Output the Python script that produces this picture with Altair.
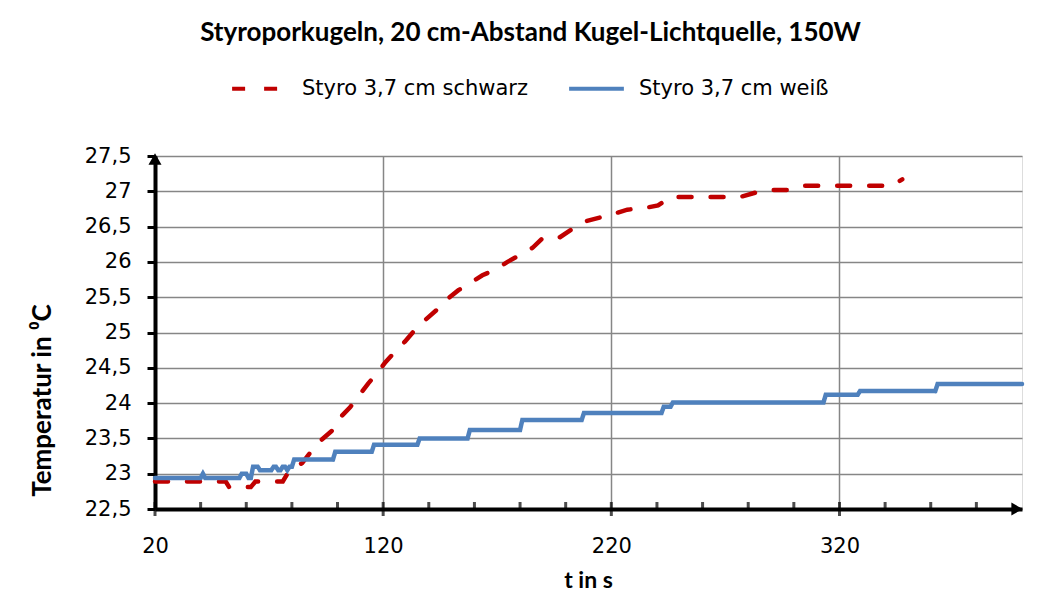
import altair as alt
import pandas as pd

TITLE = "Styroporkugeln, 20 cm-Abstand Kugel-Lichtquelle, 150W"
X_TITLE = "t in s"
Y_TITLE = "Temperatur in \u2070C"

series_names = ["Styro 3,7 cm schwarz", "Styro 3,7 cm weiß"]
series_colors = ["#C00000", "#4F81BD"]
series_dash = [[13, 19], [1, 0]]

# Styro 3,7 cm schwarz (red, dashed)
red_t = [20, 51, 52.5, 62, 64, 76, 79, 84.5, 89, 93, 98, 101, 105.5, 109, 113.5,
         117.5, 121, 125, 129.5, 134, 138.5, 143.5, 148, 153, 158, 163.5, 169,
         174.5, 180, 185.5, 190, 197.5, 203, 208, 214, 221, 227, 234, 240.5, 246,
         276.5, 283, 290, 297, 304, 343, 347.5]
red_v = [22.89, 22.89, 22.81, 22.81, 22.89, 22.89, 23.05, 23.15, 23.34, 23.48,
         23.62, 23.79, 23.94, 24.09, 24.28, 24.43, 24.58, 24.72, 24.87, 25.04,
         25.18, 25.32, 25.47, 25.60, 25.70, 25.81, 25.89, 26.00, 26.10, 26.20,
         26.34, 26.35, 26.47, 26.57, 26.62, 26.68, 26.74, 26.76, 26.80, 26.92,
         26.92, 26.98, 27.02, 27.02, 27.08, 27.08, 27.17]

# Styro 3,7 cm weiß (blue, solid)
blue_t = [20, 40, 41, 42, 57, 58, 60, 61, 62, 63, 65, 66, 71, 72, 73, 74, 75, 76,
          77, 78, 79, 80, 81, 98, 99, 115, 116, 135, 136, 157, 158, 180, 181, 207,
          208, 242, 243, 246, 247, 313, 314, 328, 329, 362, 363, 400]
blue_v = [22.94, 22.94, 23.0, 22.94, 22.94, 23.0, 23.0, 22.94, 22.94, 23.1, 23.1,
          23.05, 23.05, 23.1, 23.1, 23.05, 23.05, 23.1, 23.1, 23.05, 23.1, 23.1,
          23.2, 23.2, 23.31, 23.31, 23.41, 23.41, 23.5, 23.5, 23.62, 23.62, 23.76,
          23.76, 23.86, 23.86, 23.95, 23.95, 24.01, 24.01, 24.12, 24.12, 24.17,
          24.17, 24.27, 24.27]

x_domain = [20, 400]
y_domain = [22.5, 27.5]
x_major = [20, 120, 220, 320]
x_minor = [40, 60, 80, 100, 140, 160, 180, 200, 240, 260, 280, 300, 340, 360, 380]
y_ticks = [22.5, 23.0, 23.5, 24.0, 24.5, 25.0, 25.5, 26.0, 26.5, 27.0, 27.5]

df = pd.concat([
    pd.DataFrame({"t": red_t, "v": red_v, "s": series_names[0]}),
    pd.DataFrame({"t": blue_t, "v": blue_v, "s": series_names[1]}),
], ignore_index=True)

xs = alt.Scale(domain=x_domain, nice=False, zero=False)
ys = alt.Scale(domain=y_domain, nice=False, zero=False)

TICK_FONT = "DejaVu Sans"
TITLE_FONT = "Lato"
LABEL_SIZE = 21

x_enc = alt.X("t:Q", scale=xs, axis=alt.Axis(
    values=x_major, ticks=False, grid=True, gridColor="#868686", gridWidth=1.5,
    domain=True, domainColor="black", domainWidth=4,
    labelFont=TICK_FONT, labelFontSize=LABEL_SIZE, labelColor="black", labelPadding=26,
    labelFlush=False, labelOverlap=False,
    title=X_TITLE, titleFont=TITLE_FONT, titleFontSize=23, titleFontWeight="bold",
    titleColor="black", titleX=433, titleY=71, titleBaseline="middle",
))
y_enc = alt.Y("v:Q", scale=ys, axis=alt.Axis(
    values=y_ticks, tickCount=11, ticks=True, tickSize=8, tickWidth=3, tickColor="black",
    grid=True, gridColor="#868686", gridWidth=1.5,
    domain=True, domainColor="black", domainWidth=4,
    labelFont=TICK_FONT, labelFontSize=LABEL_SIZE, labelColor="black", labelPadding=16,
    labelExpr="replace(toString(datum.value), '.', ',')", labelFlush=False,
    labelOverlap=False, labelBound=False,
    title=Y_TITLE, titleFont=TITLE_FONT, titleFontSize=26, titleFontWeight="bold",
    titleColor="black", titleAngle=270, titleX=-113, titleY=244,
    titleAlign="center", titleBaseline="middle",
))

legend = alt.Legend(
    title=None, orient="none", legendX=75, legendY=-97, direction="horizontal",
    symbolType="stroke", symbolSize=3000, symbolStrokeWidth=4,
    labelFont=TICK_FONT, labelFontSize=LABEL_SIZE, labelColor="black",
    labelOffset=13, columnPadding=33, labelLimit=400,
)

lines = alt.Chart(df).mark_line(strokeWidth=4.5, strokeCap="round").encode(
    color=alt.Color("s:N", scale=alt.Scale(domain=series_names, range=series_colors),
                    legend=legend),
    strokeDash=alt.StrokeDash("s:N", scale=alt.Scale(domain=series_names, range=series_dash),
                              legend=legend),
)

major_df = pd.DataFrame({"t": x_major, "v": [y_domain[0]] * len(x_major)})
minor_df = pd.DataFrame({"t": x_minor, "v": [y_domain[0]] * len(x_minor)})

major_ticks = alt.Chart(major_df).mark_tick(orient="vertical", size=14, thickness=3,
                                            color="black")
minor_ticks = alt.Chart(minor_df).mark_tick(orient="vertical", size=8, thickness=3,
                                            color="black", yOffset=-3)

arrow_up = alt.Chart(pd.DataFrame({"t": [x_domain[0]], "v": [y_domain[1]]})).mark_point(
    shape="triangle-up", filled=True, size=170, color="black", opacity=1, yOffset=3)
arrow_right = alt.Chart(pd.DataFrame({"t": [x_domain[1]], "v": [y_domain[0]]})).mark_point(
    shape="triangle-right", filled=True, size=170, color="black", opacity=1, xOffset=-5)

chart = alt.layer(lines, major_ticks, minor_ticks, arrow_up, arrow_right).encode(
    x=x_enc, y=y_enc
).properties(
    width=867, height=353,
    title=alt.TitleParams(TITLE, font=TITLE_FONT, fontSize=26, fontWeight="bold",
                          color="black", anchor="middle", dx=-58, offset=13),
    autosize=alt.AutoSizeParams(type="none"),
    padding={"left": 147, "top": 148, "right": 29, "bottom": 86},
).configure_view(stroke=None).configure(background="white")

chart.save("out.html", embed_options={"renderer": "svg", "actions": False})
